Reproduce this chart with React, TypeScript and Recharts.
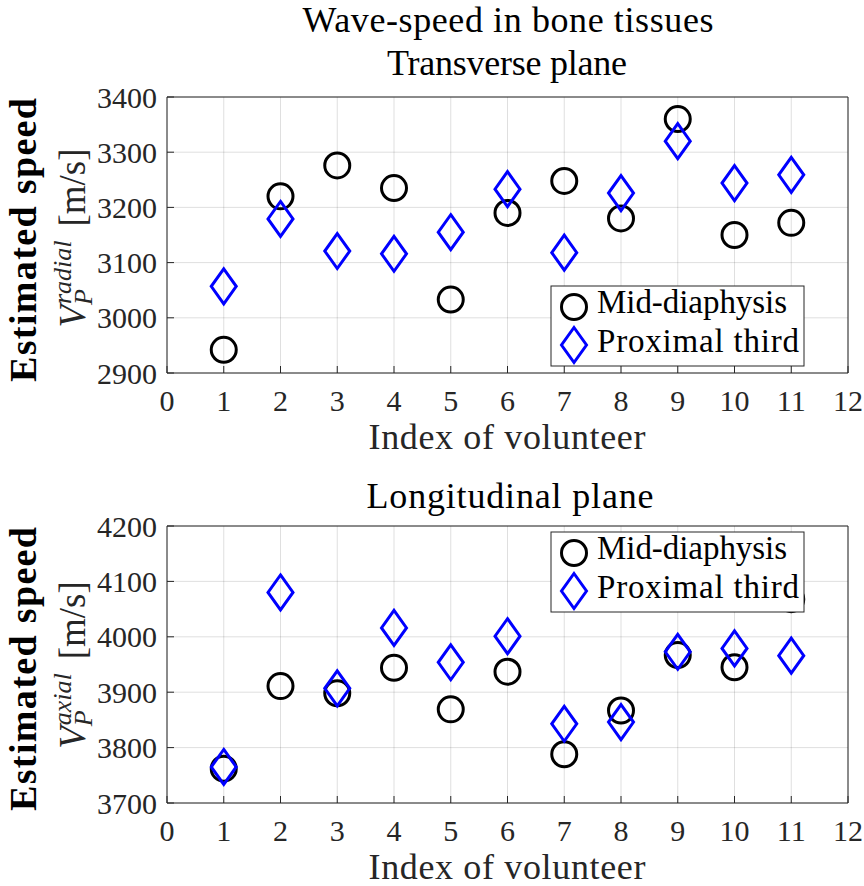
import React from 'react';
import { ScatterChart, Scatter, XAxis, YAxis, CartesianGrid } from 'recharts';

const volunteers = [1, 2, 3, 4, 5, 6, 7, 8, 9, 10, 11];
const xTicks = [0, 1, 2, 3, 4, 5, 6, 7, 8, 9, 10, 11, 12];

const transverseTicks = [2900, 3000, 3100, 3200, 3300, 3400];
const transverseMid = [2942, 3220, 3276, 3235, 3033, 3190, 3248, 3180, 3360, 3150, 3172];
const transverseProx = [3057, 3179, 3121, 3116, 3155, 3233, 3118, 3226, 3320, 3244, 3259];

const longitudinalTicks = [3700, 3800, 3900, 4000, 4100, 4200];
const longitudinalMid = [3762, 3911, 3898, 3944, 3869, 3937, 3788, 3867, 3967, 3945, 4068];
const longitudinalProx = [3765, 4080, 3907, 4016, 3954, 4001, 3843, 3846, 3973, 3979, 3966];

const seriesNames = ['Mid-diaphysis', 'Proximal third'];

const FONT = 'Liberation Serif';
const AXIS = '#262626';
const W = 864;
const H = 886;

function CircleMarker(props: any) {
  const { cx, cy } = props;
  if (cx == null || cy == null) return null;
  return <circle cx={cx} cy={cy} r={12.5} fill="none" stroke="#000000" strokeWidth={3} />;
}

function DiamondMarker(props: any) {
  const { cx, cy } = props;
  if (cx == null || cy == null) return null;
  const d = `M${cx},${cy - 17.5} L${cx + 12.5},${cy} L${cx},${cy + 17.5} L${cx - 12.5},${cy} Z`;
  return <path d={d} fill="none" stroke="#0000FF" strokeWidth={3} strokeLinejoin="miter" />;
}

type PanelProps = {
  mid: number[];
  prox: number[];
  yTicks: number[];
  plotTop: number;
  plotBottom: number;
};

const PLOT_LEFT = 167;
const PLOT_RIGHT = 848;

function Panel({ mid, prox, yTicks, plotTop, plotBottom }: PanelProps) {
  const midData = volunteers.map((v, i) => ({ x: v, y: mid[i] }));
  const proxData = volunteers.map((v, i) => ({ x: v, y: prox[i] }));
  const yDomain: [number, number] = [yTicks[0], yTicks[yTicks.length - 1]];
  const tickStyle = { fill: AXIS, fontSize: 30, fontFamily: FONT };
  const margin = {
    top: plotTop - 1,
    left: PLOT_LEFT - 1,
    right: W - PLOT_RIGHT - 1,
    bottom: H - plotBottom - 1,
  };
  return (
    <div style={{ position: 'absolute', left: 0, top: 0, width: W, height: H }}>
      <ScatterChart width={W} height={H} margin={margin}>
        <CartesianGrid stroke={AXIS} strokeOpacity={0.15} fill="none" />
        <XAxis
          dataKey="x"
          type="number"
          domain={[0, 12]}
          ticks={xTicks}
          interval={0}
          height={1}
          allowDataOverflow
          tickSize={-7}
          tickMargin={24}
          tick={tickStyle}
          tickLine={{ stroke: AXIS }}
          axisLine={{ stroke: AXIS }}
        />
        <XAxis
          xAxisId="top"
          orientation="top"
          type="number"
          domain={[0, 12]}
          ticks={xTicks}
          interval={0}
          height={1}
          allowDataOverflow
          tickSize={-7}
          tick={false}
          tickLine={{ stroke: AXIS }}
          axisLine={{ stroke: AXIS }}
        />
        <YAxis
          dataKey="y"
          type="number"
          domain={yDomain}
          ticks={yTicks}
          interval={0}
          width={1}
          allowDataOverflow
          tickSize={-7}
          tickMargin={17}
          tick={tickStyle}
          tickLine={{ stroke: AXIS }}
          axisLine={{ stroke: AXIS }}
        />
        <YAxis
          yAxisId="right"
          orientation="right"
          type="number"
          domain={yDomain}
          ticks={yTicks}
          interval={0}
          width={1}
          allowDataOverflow
          tickSize={-7}
          tick={false}
          tickLine={{ stroke: AXIS }}
          axisLine={{ stroke: AXIS }}
        />
        <Scatter name={seriesNames[0]} data={midData} shape={CircleMarker} isAnimationActive={false} />
        <Scatter name={seriesNames[1]} data={proxData} shape={DiamondMarker} isAnimationActive={false} />
      </ScatterChart>
    </div>
  );
}

function LegendBox({ top }: { top: number }) {
  const x = 551;
  const mx = 574;
  return (
    <g>
      <rect x={x} y={top} width={253} height={80} fill="#ffffff" stroke={AXIS} strokeWidth={1} />
      <CircleMarker cx={mx} cy={top + 21} />
      <DiamondMarker cx={mx} cy={top + 59} />
      <text x={597} y={top + 27} fontFamily={FONT} fontSize={33} fill="#000" textLength={190}>
        {seriesNames[0]}
      </text>
      <text x={597} y={top + 66} fontFamily={FONT} fontSize={33} fill="#000" textLength={202}>
        {seriesNames[1]}
      </text>
    </g>
  );
}

function YLabel({ cy, cy2, sup }: { cy: number; cy2: number; sup: string }) {
  return (
    <g>
      <text
        transform={`translate(36, ${cy}) rotate(-90)`}
        textAnchor="middle"
        fontFamily={FONT}
        fontWeight="bold"
        fontSize={38}
        fill="#000"
        textLength={284}
      >
        Estimated speed
      </text>
      <text
        transform={`translate(85, ${cy2}) rotate(-90)`}
        textAnchor="middle"
        fontFamily={FONT}
        fontSize={37}
        fill={AXIS}
      >
        <tspan fontStyle="italic">V</tspan>
        <tspan fontStyle="italic" fontSize={26} dy={7}>P</tspan>
        <tspan fontStyle="italic" fontSize={26} dx={-15} dy={-21}>{sup}</tspan>
        <tspan dy={14} dx={14}>[m/s]</tspan>
      </text>
    </g>
  );
}

function Overlay() {
  const titleStyle = { fontFamily: FONT, fontSize: 36, fill: '#000' };
  return (
    <svg
      width={W}
      height={H}
      style={{ position: 'absolute', left: 0, top: 0, pointerEvents: 'none' }}
    >
      <text x={508} y={32} textAnchor="middle" {...titleStyle} textLength={411}>
        Wave-speed in bone tissues
      </text>
      <text x={507} y={75} textAnchor="middle" {...titleStyle} textLength={240}>
        Transverse plane
      </text>
      <text x={507} y={449} textAnchor="middle" {...titleStyle} fill={AXIS} textLength={277}>
        Index of volunteer
      </text>
      <text x={510} y={508} textAnchor="middle" {...titleStyle} textLength={287}>
        Longitudinal plane
      </text>
      <text x={507} y={879} textAnchor="middle" {...titleStyle} fill={AXIS} textLength={277}>
        Index of volunteer
      </text>
      <YLabel cy={240} cy2={238} sup="radial" />
      <YLabel cy={669} cy2={665} sup="axial" />
      <LegendBox top={286} />
      <LegendBox top={532} />
    </svg>
  );
}

export default function App() {
  return (
    <div style={{ position: 'absolute', left: 0, top: 0, width: W, height: H, background: '#fff' }}>
      <Panel
        mid={transverseMid}
        prox={transverseProx}
        yTicks={transverseTicks}
        plotTop={97}
        plotBottom={373}
      />
      <Panel
        mid={longitudinalMid}
        prox={longitudinalProx}
        yTicks={longitudinalTicks}
        plotTop={526}
        plotBottom={803}
      />
      <Overlay />
    </div>
  );
}
